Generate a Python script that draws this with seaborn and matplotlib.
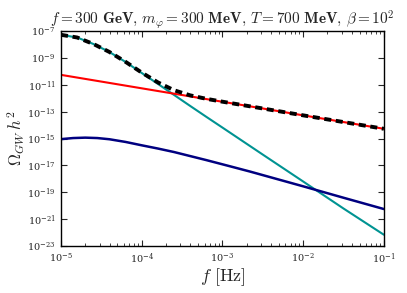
import numpy as np
import pandas as pd
import matplotlib
matplotlib.use("Agg")
import matplotlib.pyplot as plt
import seaborn as sns
from matplotlib.ticker import NullLocator, LogLocator

# log10 of frequency [Hz] shared by the two main components
logf = [-5.0, -4.8, -4.6, -4.4, -4.2, -4.0, -3.8, -3.6, -3.4, -3.2, -3.0, -2.5, -2.0, -1.5, -1.0]
# log10(Omega h^2)
teal_log = [-7.28, -7.48, -7.96, -8.56, -9.30, -10.12, -10.93, -11.75, -12.57, -13.38, -14.18, -16.19, -18.19, -20.20, -22.15]
red_log = [-10.26, -10.46, -10.66, -10.86, -11.06, -11.26, -11.46, -11.66, -11.86, -12.06, -12.26, -12.76, -13.27, -13.77, -14.27]

navy_logf = [-5.0, -4.85, -4.7, -4.55, -4.4, -4.2, -4.0, -3.8, -3.6, -3.4, -3.2, -2.9, -2.66, -2.0, -1.5, -1.0]
navy_log = [-15.04, -14.96, -14.93, -14.96, -15.05, -15.25, -15.5, -15.74, -16.0, -16.3, -16.6, -17.07, -17.45, -18.55, -19.4, -20.24]

freq = 10.0 ** np.array(logf)
teal = 10.0 ** np.array(teal_log)
red = 10.0 ** np.array(red_log)
total = teal + red
navy_f = 10.0 ** np.array(navy_logf)
navy = 10.0 ** np.array(navy_log)

sns.set_style("ticks")
plt.rcParams["mathtext.fontset"] = "cm"
plt.rcParams["font.family"] = "serif"
plt.rcParams["xtick.direction"] = "in"
plt.rcParams["ytick.direction"] = "in"

fig = plt.figure(figsize=(4.07, 2.93), dpi=100)
ax = fig.add_axes([0.150, 0.160, 0.793, 0.734])

sns.lineplot(x=freq, y=teal, color="#009392", lw=1.5, ax=ax)
sns.lineplot(x=freq, y=red, color="#ff0000", lw=1.5, ax=ax)
sns.lineplot(x=navy_f, y=navy, color="#000080", lw=1.8, ax=ax)
sns.lineplot(x=freq, y=total, color="black", lw=2.8, ax=ax)
ax.lines[-1].set_dashes([1.8, 1.2])

ax.set_xscale("log")
ax.set_yscale("log")
ax.set_xlim(1e-5, 1e-1)
ax.set_ylim(1e-23, 1e-7)
ax.set_yticks([10.0 ** k for k in range(-23, -6, 2)])
ax.yaxis.set_minor_locator(NullLocator())
ax.xaxis.set_minor_locator(LogLocator(base=10, subs=np.arange(2, 10)))

ax.tick_params(which="both", top=True, right=True, direction="in", labelsize=7, pad=4)
ax.tick_params(which="major", length=4, width=0.8)
ax.tick_params(which="minor", length=2, width=0.6)
for s in ax.spines.values():
    s.set_linewidth(1.0)
    s.set_color("black")

ax.set_xlabel(r"$f\ [\mathrm{Hz}]$", fontsize=13, labelpad=0)
ax.set_ylabel(r"$\Omega_{GW}\,h^2$", fontsize=12)
ax.yaxis.set_label_coords(-0.105, 0.5)
ax.set_title(r"$f=300\ \mathbf{GeV},\,m_{\varphi}=300\ \mathbf{MeV},\,T=700\ \mathbf{MeV},\,\beta=10^2$",
             fontsize=11, pad=3)

fig.savefig("out.png", dpi=100)
